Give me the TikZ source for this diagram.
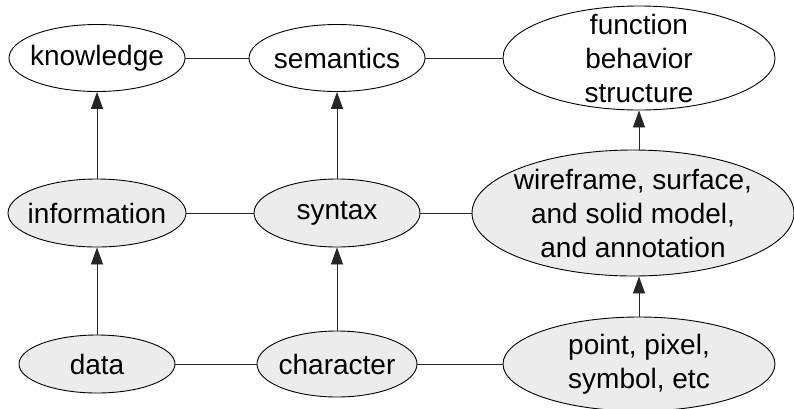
\documentclass[tikz,border=0pt]{standalone}
\usepackage{fontspec}
\setmainfont{Liberation Sans}
\usetikzlibrary{shapes.geometric,arrows.meta}
\definecolor{nodefill}{RGB}{236,236,236}
\begin{document}
\begin{tikzpicture}[x=1pt,y=-1pt,
  oval/.style={ellipse,draw=black,line width=0.9pt,inner sep=-18pt,align=center,
    font=\fontsize{28}{34}\selectfont},
  upper/.style={oval,fill=white},
  lower/.style={oval,fill=nodefill},
  link/.style={draw=black!85,line width=0.9pt},
  lift/.style={link,-{Triangle[length=17pt,width=12pt]}}]
\useasboundingbox (0,0) rectangle (794,408);
\clip (0,0) rectangle (794,408);

% top row
\node[upper,minimum width=176pt,minimum height=67pt] (knowledge) at (97,58) {knowledge};
\node[upper,minimum width=176pt,minimum height=67pt] (semantics) at (337,58) {semantics};
\node[upper,minimum width=272pt,minimum height=104pt] (function) at (639,58) {function\\behavior\\structure};

% middle row
\node[lower,minimum width=178pt,minimum height=68pt] (information) at (97,213) {information};
\node[lower,minimum width=166pt,minimum height=68pt] (syntax) at (337,213) {syntax};
\node[lower,minimum width=322pt,minimum height=126pt] (wire) at (633,213) {wireframe, surface,\\and solid model,\\and annotation};

% bottom row
\node[lower,minimum width=156pt,minimum height=58pt] (data) at (97,364) {data};
\node[lower,minimum width=160pt,minimum height=66pt] (character) at (337,364) {character};
\node[lower,minimum width=272pt,minimum height=94pt] (point) at (639,364) {point, pixel,\\symbol, etc};

% horizontal links
\draw[link] (knowledge) -- (semantics);
\draw[link] (semantics) -- (function);
\draw[link] (information) -- (syntax);
\draw[link] (syntax) -- (wire);
\draw[link] (data) -- (character);
\draw[link] (character) -- (point);

% upward arrows
\draw[lift] (data.north) -- (information.south);
\draw[lift] (information.north) -- (knowledge.south);
\draw[lift] (character.north) -- (syntax.south);
\draw[lift] (syntax.north) -- (semantics.south);
\draw[lift] (point.north) -- (point.north |- wire.south);
\draw[lift] (point.north |- wire.north) -- (function.south);
\end{tikzpicture}
\end{document}
